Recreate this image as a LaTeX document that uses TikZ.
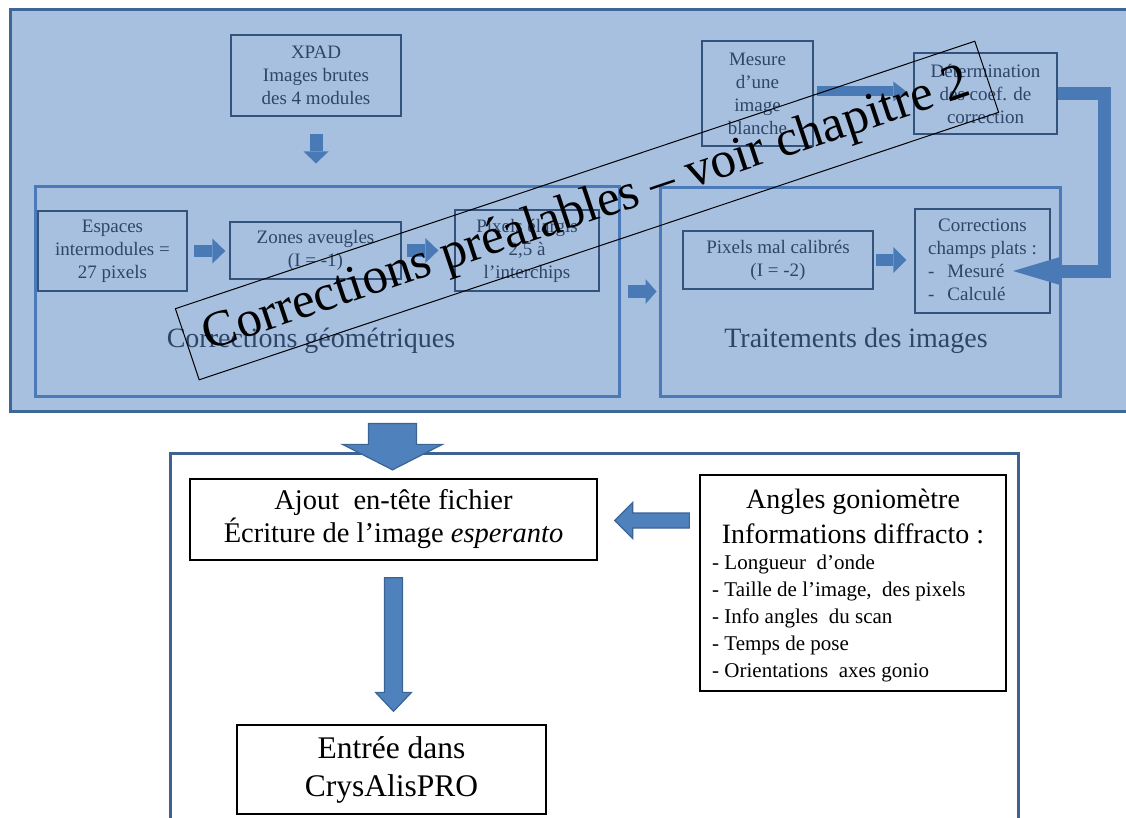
\documentclass[tikz,border=0pt]{standalone}
\usepackage{fontspec}
\setmainfont{Liberation Serif}
\usetikzlibrary{arrows.meta,calc}
\definecolor{panelfill}{HTML}{A8C0DF}
\definecolor{panelborder}{HTML}{3E6797}
\definecolor{grpc}{HTML}{4A7BB8}
\definecolor{sboxc}{HTML}{34537C}
\definecolor{toptext}{HTML}{2E4568}
\definecolor{tarrc}{HTML}{4A7AB6}
\definecolor{barrc}{HTML}{4F81BD}
\definecolor{barrline}{HTML}{3A6494}
\definecolor{bboxc}{HTML}{40628F}
\newcommand\blkarrow[6]{%
  \path ($(#3)!#6!(#2)$) coordinate (bkb);
  \draw[#1] ($(#2)!#4!90:(bkb)$) -- ($(bkb)!#4!-90:(#2)$) -- ($(bkb)!#5!-90:(#2)$) -- (#3) -- ($(bkb)!#5!90:(#2)$) -- ($(bkb)!#4!90:(#2)$) -- ($(#2)!#4!-90:(bkb)$) -- cycle;}
\begin{document}
\begin{tikzpicture}[x=1pt,y=-1pt,
  sbox/.style={draw=sboxc, line width=1.3pt, text=toptext, align=center, inner sep=0pt, font=\fontsize{19}{23}\selectfont},
  grp/.style={draw=grpc, line width=3pt, inner sep=0pt},
  grplabel/.style={text=toptext, inner sep=0pt, font=\fontsize{28}{32}\selectfont},
  blk/.style n args={3}{line width=#1, -{Triangle[width=#2,length=#3,line width=0pt]}},
  tarr/.style={draw=tarrc},
  barr/.style={draw=barrline, fill=barrc, line width=1.2pt, line join=miter},
  wbox/.style={draw=black, line width=1.3pt, fill=white, align=center, inner sep=0pt},
]
\useasboundingbox (0,0) rectangle (1126,818);
% top panel
\node[draw=panelborder, fill=panelfill, line width=3pt, minimum width=1130, minimum height=401, inner sep=0pt] (panel) at (575,210.5) {};
\node[grp, minimum width=584, minimum height=209] (geo) at (327,291.5) {};
\node[grp, minimum width=400, minimum height=208] (trait) at (860,292) {};
\node[grplabel] (geolab) at (311,341) {Corrections géométriques};
\node[grplabel] (traitlab) at (856,341) {Traitements des images};
\node[sbox, minimum width=170, minimum height=81] (xpad) at (316,75.5) {XPAD\\Images brutes\\des 4 modules};
\node[sbox, minimum width=149, minimum height=80] (esp) at (112.5,251) {Espaces\\intermodules =\\27 pixels};
\node[sbox, minimum width=171, minimum height=57] (zones) at (315.5,250.5) {Zones aveugles\\(I = -1)};
\node[sbox, minimum width=144, minimum height=81] (pix) at (527,250.5) {Pixels élargis\\2,5 à\\l’interchips};
\node[sbox, minimum width=111, minimum height=105] (mes) at (757.5,93.5) {Mesure\\d’une\\image\\blanche};
\node[sbox, minimum width=143, minimum height=81] (det) at (985.5,93.5) {Détermination\\des coef. de\\correction};
\node[sbox, minimum width=190, minimum height=58] (pmc) at (778,260) {Pixels mal calibrés\\(I = -2)};
\node[sbox, minimum width=135, minimum height=104] (corr) at (982.5,261) {\begin{tabular}{@{}c@{}}Corrections\\champs plats :\\\multicolumn{1}{@{}l@{}}{-\hspace{13pt}Mesuré}\\\multicolumn{1}{@{}l@{}}{-\hspace{13pt}Calculé}\end{tabular}};
\coordinate (mtip) at (1013,271);
% top arrows
\draw[tarr, blk={13pt}{25pt}{12pt}, shorten <=17pt, shorten >=22pt] (xpad.south) -- (xpad.south |- geo.north);
\draw[tarr, blk={12pt}{25pt}{13pt}, shorten <=6pt, shorten >=4pt] (esp.east) -- (esp.east -| zones.west);
\draw[tarr, blk={12pt}{25pt}{13pt}, shorten <=5pt, shorten >=16pt] (zones.east) -- (zones.east -| pix.west);
\draw[tarr, blk={13pt}{25pt}{11pt}, shorten <=7pt, shorten >=2pt] (geo.east) -- (geo.east -| trait.west);
\draw[tarr, blk={12pt}{26pt}{13pt}, shorten <=2pt, shorten >=8pt] (pmc.east) -- (pmc.east -| corr.west);
\draw[tarr, blk={10pt}{20pt}{13pt}, shorten <=3pt, shorten >=7pt] ([yshift=2pt]mes.east) -- ([yshift=2pt]mes.east -| det.west);
\draw[tarr, line join=miter, blk={13pt}{28pt}{47pt}] (det.east) -- ++(46.5,0) |- (mtip);
% overlay label
\node[draw=black, line width=1pt, rotate=18.5, minimum width=843, minimum height=75, inner sep=0pt, font=\fontsize{51}{55}\selectfont] (pre) at (587,210.5) {Corrections préalables – voir chapitre 2};
% bottom part
\node[draw=bboxc, line width=3pt, minimum width=848, minimum height=387, inner sep=0pt] (bottom) at (594,646.5) {};
\node[wbox, minimum width=407, minimum height=81, font=\fontsize{28.5}{33}\selectfont] (ajout) at (393.5,519.5) {Ajout~ en-tête fichier\\Écriture de l’image \textit{esperanto}};
\node[wbox, minimum width=309, minimum height=89, font=\fontsize{31.5}{38}\selectfont] (entree) at (391.5,769.5) {Entrée dans\\CrysAlisPRO};
\node[wbox, minimum width=306, minimum height=216] (angles) at (853,583) {};
\node[align=center, inner sep=0pt, font=\fontsize{28}{35}\selectfont] (angtitle) at (853,516) {Angles goniomètre\\Informations diffracto :};
\node[align=left, anchor=west, inner sep=0pt, font=\fontsize{21}{27}\selectfont] (anglist) at (712,618) {- Longueur~ d’onde\\- Taille de l’image,~ des pixels\\- Info angles~ du scan\\- Temps de pose\\- Orientations~ axes gonio};
\coordinate (bigS) at ($(ajout.north |- panel.south)+(-1,11)$);
\coordinate (bigE) at ($(ajout.north)+(-1,-8.5)$);
\coordinate (aeS) at ($(ajout.south)+(0,17)$);
\coordinate (aeE) at ($(ajout.south |- entree.north)+(0,-13)$);
\coordinate (anS) at ($(angles.west |- ajout.east)+(-10,1)$);
\coordinate (anE) at ($(ajout.east)+(17,1)$);
\blkarrow{barr}{bigS}{bigE}{24pt}{50pt}{25.5pt}
\blkarrow{barr}{aeS}{aeE}{9pt}{18pt}{19pt}
\blkarrow{barr}{anS}{anE}{7.5pt}{18pt}{18pt}
\end{tikzpicture}
\end{document}
